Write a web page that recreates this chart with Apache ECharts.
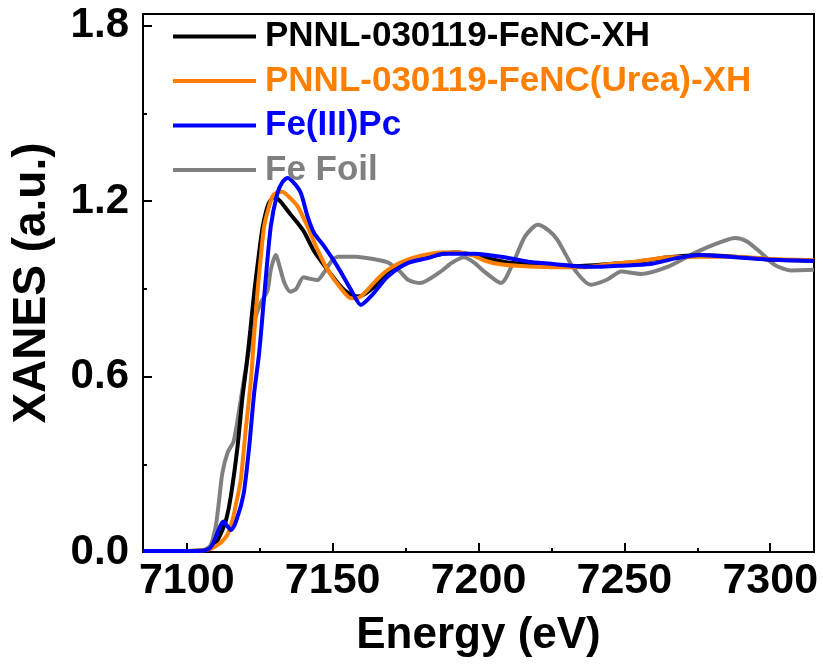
<!DOCTYPE html>
<html>
<head>
<meta charset="utf-8">
<script src="https://cdn.jsdelivr.net/npm/echarts@6/dist/echarts.min.js"></script>
<style>
html,body{margin:0;padding:0;background:#fff;}
#chart{width:823px;height:666px;}
</style>
</head>
<body>
<div id="chart"></div>
<script>
// ---- data ----
var seriesNames = ['PNNL-030119-FeNC-XH', 'PNNL-030119-FeNC(Urea)-XH', 'Fe(III)Pc', 'Fe Foil'];
var seriesColors = ['#000000', '#FF8000', '#0000FF', '#808080'];

var energyBlack = [7085, 7095, 7105, 7108, 7110, 7112, 7113.5, 7115.1, 7117.4, 7119.1, 7120.5, 7121.8, 7123.1, 7124.5, 7126, 7128, 7130, 7132, 7134, 7135.7, 7138, 7140.2, 7143.6, 7148.3, 7152.8, 7155.5, 7158.6, 7161, 7164.3, 7167.5, 7171, 7175, 7179, 7186, 7192, 7200, 7210, 7220, 7235, 7245, 7255, 7265, 7276, 7288, 7300, 7315];
var xanesBlack  = [0.003, 0.003, 0.005, 0.012, 0.03, 0.07, 0.11, 0.19, 0.36, 0.53, 0.64, 0.76, 0.886, 1.0, 1.11, 1.19, 1.215, 1.2, 1.175, 1.153, 1.125, 1.095, 1.03, 0.965, 0.908, 0.885, 0.874, 0.882, 0.908, 0.94, 0.976, 0.995, 1.005, 1.016, 1.025, 1.012, 0.99, 0.983, 0.978, 0.985, 0.993, 1.008, 1.015, 1.01, 1.0, 0.996];

var energyOrange = [7085, 7095, 7105, 7108, 7110, 7112, 7114, 7115.7, 7117, 7118.5, 7120.2, 7122, 7123.1, 7124.2, 7125.3, 7126.5, 7128, 7129.4, 7131, 7132.7, 7135, 7138, 7141.4, 7144.8, 7148.3, 7152.8, 7156.3, 7159, 7162, 7165, 7168.9, 7175.7, 7184.8, 7192, 7198, 7202, 7207, 7213.4, 7225, 7236, 7245, 7253.5, 7265, 7276, 7288, 7299, 7315];
var xanesOrange  = [0.003, 0.003, 0.005, 0.01, 0.02, 0.035, 0.06, 0.11, 0.17, 0.246, 0.417, 0.589, 0.74, 0.885, 1.0, 1.113, 1.175, 1.216, 1.23, 1.232, 1.215, 1.182, 1.113, 1.034, 0.965, 0.902, 0.868, 0.87, 0.897, 0.93, 0.965, 1.0, 1.022, 1.025, 1.015, 0.997, 0.985, 0.979, 0.974, 0.974, 0.985, 0.993, 1.008, 1.01, 1.01, 1.003, 0.998];

var energyBlue = [7085, 7095, 7104, 7107, 7108.5, 7110, 7111.3, 7112.5, 7113.8, 7115.1, 7116.3, 7117.4, 7118.6, 7119.7, 7121.4, 7123.1, 7124.8, 7126.5, 7128.8, 7131.1, 7132.8, 7134.5, 7136.5, 7139.1, 7141.4, 7143.7, 7147.1, 7151.7, 7156.3, 7159.7, 7163.1, 7168.9, 7175.7, 7182.6, 7188, 7198.6, 7207.7, 7217, 7225, 7236, 7242, 7248, 7259, 7268, 7276, 7288, 7299, 7315];
var xanesBlue  = [0.003, 0.003, 0.003, 0.008, 0.02, 0.052, 0.085, 0.104, 0.09, 0.075, 0.09, 0.121, 0.16, 0.212, 0.36, 0.543, 0.68, 0.87, 1.113, 1.228, 1.265, 1.279, 1.265, 1.228, 1.148, 1.09, 1.045, 0.976, 0.897, 0.845, 0.874, 0.942, 0.988, 1.005, 1.02, 1.02, 1.01, 0.993, 0.986, 0.976, 0.976, 0.979, 0.985, 1.005, 1.016, 1.008, 1.0, 0.995];

var energyGray = [7085, 7095, 7105, 7108, 7109.9, 7111, 7112.2, 7114, 7116.1, 7118.5, 7119.6, 7121.5, 7123.5, 7125.5, 7127.7, 7128.8, 7130.5, 7132, 7133.5, 7135.5, 7137.5, 7140, 7142, 7144.8, 7147, 7150, 7152, 7158, 7165, 7169, 7173, 7176, 7180, 7187, 7191, 7195, 7198.5, 7202, 7207.7, 7212.3, 7216, 7220.3, 7224, 7227, 7233, 7238.6, 7244, 7249, 7255.7, 7265, 7274, 7282, 7288, 7292, 7297, 7301.5, 7307, 7315];
var xanesGray  = [0.003, 0.003, 0.005, 0.02, 0.086, 0.17, 0.27, 0.34, 0.38, 0.52, 0.59, 0.70, 0.80, 0.855, 0.895, 0.965, 1.016, 0.97, 0.92, 0.89, 0.9, 0.94, 0.935, 0.93, 0.955, 1.0, 1.01, 1.01, 1.0, 0.99, 0.96, 0.93, 0.92, 0.959, 0.99, 1.008, 0.99, 0.959, 0.92, 0.999, 1.08, 1.119, 1.1, 1.068, 0.965, 0.914, 0.931, 0.959, 0.951, 0.976, 1.022, 1.056, 1.074, 1.062, 1.022, 0.982, 0.963, 0.965];

var xMin = 7085, xMax = 7315;
var yMin = 0, yMax = 1.84, yInterval = 0.6;

function pairs(xs, ys) { return xs.map(function (x, i) { return [x, ys[i]]; }); }
var allData = [pairs(energyBlack, xanesBlack), pairs(energyOrange, xanesOrange), pairs(energyBlue, xanesBlue), pairs(energyGray, xanesGray)];

var FONT = '"Liberation Sans", Arial, sans-serif';
var chart = echarts.init(document.getElementById('chart'), null, {renderer: 'canvas'});

// draw order: gray bottom, then black, orange, blue on top
var drawOrder = [3, 0, 1, 2];
var series = drawOrder.map(function (k) {
  return {
    name: seriesNames[k],
    type: 'line',
    data: allData[k],
    showSymbol: false,
    smooth: 0.25,
    lineStyle: {color: seriesColors[k], width: 4},
    itemStyle: {color: seriesColors[k]},
    animation: false
  };
});

chart.setOption({
  animation: false,
  backgroundColor: '#ffffff',
  grid: {left: 143, right: 9, top: 14, bottom: 114, show: true, borderColor: '#000', borderWidth: 2, backgroundColor: 'transparent'},
  legend: {
    left: 168, top: 14, orient: 'vertical',
    icon: 'rect', itemWidth: 83, itemHeight: 4, itemGap: 9.5,
    data: seriesNames.map(function (n, i) {
      return {name: n, textStyle: {color: seriesColors[i]}};
    }),
    textStyle: {fontFamily: FONT, fontWeight: 'bold', fontSize: 35, lineHeight: 35, padding: [0, 0, 0, 4]}
  },
  xAxis: {
    type: 'value', min: xMin, max: xMax,
    name: 'Energy (eV)', nameLocation: 'middle', nameGap: 62,
    nameTextStyle: {fontFamily: FONT, fontWeight: 'bold', fontSize: 44, color: '#000'},
    axisLine: {show: true, onZero: false, lineStyle: {color: '#000', width: 2}},
    axisTick: {show: true, inside: true, length: 9, lineStyle: {color: '#000', width: 2}},
    minorTick: {show: true, splitNumber: 2, length: 4, lineStyle: {color: '#000', width: 2}},
    axisLabel: {fontFamily: FONT, fontWeight: 'bold', fontSize: 43, color: '#000', margin: 8, showMinLabel: false, showMaxLabel: false,
      formatter: function (v) { return String(Math.round(v)); }},
    splitLine: {show: false}
  },
  yAxis: {
    type: 'value', min: yMin, max: yMax, interval: yInterval,
    name: 'XANES (a.u.)', nameLocation: 'middle', nameGap: 88, nameRotate: 90,
    nameTextStyle: {fontFamily: FONT, fontWeight: 'bold', fontSize: 46, color: '#000'},
    axisLine: {show: true, onZero: false, lineStyle: {color: '#000', width: 2}},
    axisTick: {show: true, inside: true, length: 9, lineStyle: {color: '#000', width: 2}},
    minorTick: {show: true, splitNumber: 2, length: 4, lineStyle: {color: '#000', width: 2}},
    axisLabel: {fontFamily: FONT, fontWeight: 'bold', fontSize: 42, color: '#000', margin: 14, showMaxLabel: false,
      formatter: function (v) { return v.toFixed(1); }},
    splitLine: {show: false}
  },
  series: series
});
</script>
</body>
</html>
